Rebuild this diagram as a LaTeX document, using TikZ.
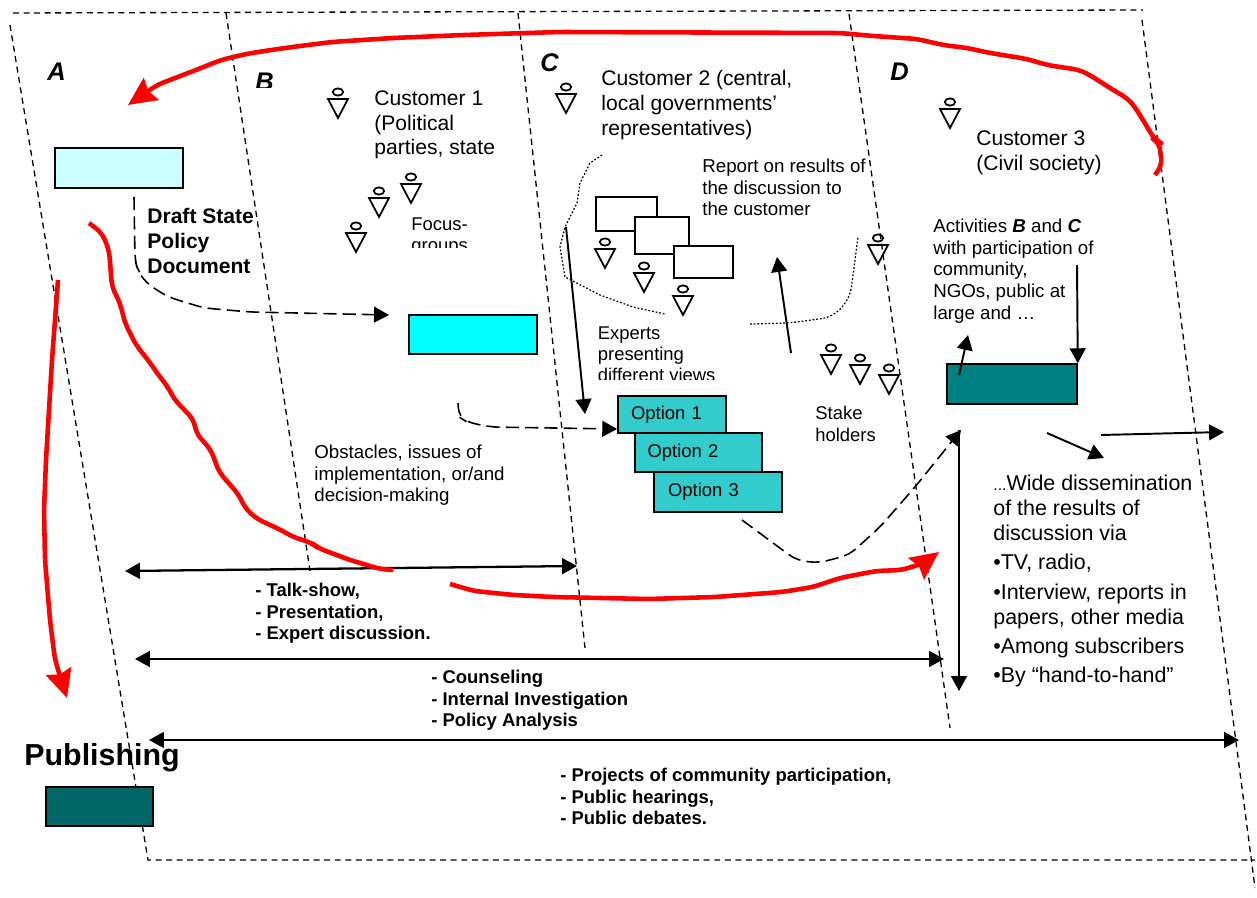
\documentclass[tikz,border=0pt]{standalone}
\usepackage{fontspec}
\setmainfont{Liberation Sans}
\usetikzlibrary{
    arrows.meta,
    positioning
}
\definecolor{PaleCyan}{RGB}{204,255,255}
\definecolor{FullCyan}{RGB}{0,255,255}
\definecolor{OptTeal}{RGB}{51,204,204}
\definecolor{MidTeal}{RGB}{0,128,128}
\definecolor{DarkTeal}{RGB}{0,102,102}
\definecolor{PenRed}{RGB}{255,0,0}
\tikzset{
  box/.style     = {draw, line width=0.9pt, inner sep=0pt},
  txt/.style     = {anchor=north west, inner sep=0pt, align=left,
                    font=\fontsize{12}{14.2}\selectfont},
  stxt/.style    = {anchor=north west, inner sep=0pt, align=left,
                    font=\fontsize{10.65}{12.25}\selectfont},
  ttxt/.style    = {anchor=north west, inner sep=0pt, align=left,
                    font=\fontsize{10.5}{12.2}\selectfont},
  btxt/.style    = {anchor=north west, inner sep=0pt, align=left,
                    font=\bfseries\fontsize{10.5}{12.3}\selectfont},
  zone/.style    = {anchor=north west, inner sep=0pt,
                    font=\bfseries\itshape\fontsize{14.5}{16}\selectfont},
  border/.style  = {line width=0.75pt, dash pattern=on 3.4pt off 2.6pt},
  trail/.style   = {line width=0.7pt, dash pattern=on 1pt off 1.1pt},
  arr/.style     = {-{Triangle[length=8.5pt,width=9pt]}, line width=1.1pt},
  darr/.style    = {{Triangle[length=8.5pt,width=9pt]}-{Triangle[length=8.5pt,width=9pt]}, line width=1.3pt},
  dasharr/.style = {-{Triangle[length=8.5pt,width=9pt]}, line width=0.9pt,
                    dash pattern=on 7.5pt off 3.5pt, rounded corners=5pt},
  redline/.style = {PenRed, line width=2.6pt, line join=round, rounded corners=4pt},
  redarr/.style  = {redline, -{Stealth[length=16pt,width=15pt,inset=2pt]}},
  person/.pic    = {
    \draw[line width=1pt] (0,0) ellipse [x radius=5.2, y radius=3.6];
    \draw[line width=1pt, line join=miter] (-10,7) -- (10,7) -- (0,26) -- cycle;
  }
}

\begin{document}
\begin{tikzpicture}[x=0.02cm,y=-0.02cm]
\useasboundingbox (0,0) rectangle (1257,898);
% zone borders
\draw[border] (13,13) -- (1143,10);
\draw[border] (10,25) -- (148,860) -- (1255,860);
\draw[border] (226,13) -- (310,571);
\draw[border] (518,13) -- (585,648);
\draw[border] (849,14) -- (950,728);
\draw[border] (1142,20) -- (1255,888);

% boxes
\node[box, fill=PaleCyan, minimum width=2.56cm, minimum height=0.80cm] (draftbox) at (119,168) {};
\node[box, fill=FullCyan, minimum width=2.56cm, minimum height=0.78cm] (focusbox) at (473,334.5) {};
\node[box, fill=MidTeal, minimum width=2.60cm, minimum height=0.80cm] (activebox) at (1012,384) {};
\node[box, fill=DarkTeal, minimum width=2.15cm, minimum height=0.78cm] (pubbox) at (99.5,806.5) {};
\node[box, fill=white, minimum width=1.22cm, minimum height=0.68cm] (exp1) at (626.5,214) {};
\node[box, fill=white, minimum width=1.08cm, minimum height=0.74cm] (exp2) at (662,235.5) {};
\node[box, fill=white, minimum width=1.18cm, minimum height=0.64cm] (exp3) at (703.5,262) {};
\node[box, fill=OptTeal, minimum width=2.16cm, minimum height=0.74cm, text width=1.64cm, align=left,
      font=\fontsize{10.5}{12}\selectfont] (opt1) at (672,414.5) {\raisebox{-0.8pt}{Option 1}};
\node[box, fill=OptTeal, minimum width=2.54cm, minimum height=0.78cm, text width=2.04cm, align=left,
      font=\fontsize{10.5}{12}\selectfont] (opt2) at (698.5,452.5) {\raisebox{-0.8pt}{Option 2}};
\node[box, fill=OptTeal, minimum width=2.56cm, minimum height=0.80cm, text width=2.00cm, align=left,
      font=\fontsize{10.5}{12}\selectfont] (opt3) at (718,492) {\raisebox{-0.8pt}{Option 3}};

% people
\pic at (338,92) {person};
\pic at (411,177) {person};
\pic at (379,191) {person};
\pic at (356,226) {person};
\pic at (566,87) {person};
\pic at (605,242) {person};
\pic at (644,266) {person};
\pic at (683,289) {person};
\pic at (878,238) {person};
\pic at (831,348) {person};
\pic at (860,358) {person};
\pic at (889,368) {person};
\pic at (950,102) {person};

% dotted trails
\draw[trail] (602,155) -- (590,163) -- (580,183) -- (577,203) -- (565,227) -- (560,247)
  -- (565,277) -- (600,295) -- (633,307) -- (665,314);
\draw[trail, rounded corners=6pt] (750,324) -- (790,323) -- (833,317) -- (850,298) -- (858,237);

% zone letters
\node[zone] (zoneA) at (47,63) {A};
\begin{scope}
\clip (250,60) rectangle (285,88);
\node[zone] (zoneB) at (255,73) {B};
\end{scope}
\node[zone] (zoneC) at (540,53) {C};
\node[zone] (zoneD) at (890,63) {D};

% texts
\node[txt] (cust1) at (374,90) {Customer 1\\(Political\\parties, state};
\node[txt] (cust2) at (601,70) {Customer 2 (central,\\local governments’\\representatives)};
\node[txt] (cust3) at (976,130) {Customer 3\\(Civil society)};
\node[stxt] (report) at (702,159) {Report on results of\\the discussion to\\the customer};
\node[stxt] (activ) at (933,219) {Activities \textbf{\textit{B}} and \textbf{\textit{C}}\\with participation of\\community,\\NGOs, public at\\large and …};
\node[txt, font=\bfseries\fontsize{12}{14.1}\selectfont] (draft) at (147,208) {Draft State\\Policy\\Document};
\begin{scope}
\clip (405,210) rectangle (480,248);
\node[ttxt] (focus) at (411,217) {Focus-\\groups};
\end{scope}
\begin{scope}
\clip (590,320) rectangle (725,379);
\node[ttxt] (experts) at (597.5,326) {Experts\\presenting\\different views};
\end{scope}
\node[ttxt] (stake) at (815,406) {Stake\\holders};
\node[ttxt, font=\fontsize{10.65}{12.2}\selectfont] (obst) at (314,445) {Obstacles, issues of\\implementation, or/and\\decision-making};
\node[btxt] (talk) at (255,583) {- Talk-show,\\- Presentation,\\- Expert discussion.};
\node[btxt] (couns) at (431,670) {- Counseling\\- Internal Investigation\\- Policy Analysis};
\node[btxt] (proj) at (560,768) {- Projects of community participation,\\- Public hearings,\\- Public debates.};
\node[txt, font=\fontsize{12.2}{14.2}\selectfont] (wide) at (993,475) {{\fontsize{9}{10}\selectfont ...}Wide dissemination\\of the results of\\discussion via\\[2.4pt]•TV, radio,\\[2.4pt]•Interview, reports in\\papers, other media\\[2.4pt]•Among subscribers\\[2.4pt]•By “hand-to-hand”};
\node[anchor=north west, inner sep=0pt, font=\bfseries\fontsize{17.3}{20}\selectfont] (publ) at (24,743) {Publishing};

% black arrows
\coordinate (talkL) at (125,571);
\coordinate (talkR) at (577,566);
\coordinate (counsL) at (135,659);
\coordinate (counsR) at (944,659);
\coordinate (publL) at (149,740);
\coordinate (publR) at (1239,740);
\coordinate (spanT) at (959,430);
\coordinate (spanB) at (959,691);
\draw[darr] (talkL) -- (talkR);
\draw[darr] (counsL) -- (counsR);
\draw[darr] (publL) -- (publR);
\draw[arr] (spanT) -- (spanB);
\coordinate (expS) at (566,227);
\coordinate (expE) at (585,414);
\draw[arr] (expS) -- (expE);
\coordinate (stakeS) at (791,353);
\coordinate (stakeE) at (777,257);
\draw[arr] (stakeS) -- (stakeE);
\coordinate (upS) at (959,375);
\coordinate (upE) at (968,335);
\draw[arr] (upS) -- (upE);
\coordinate (downS) at (1077,265);
\draw[arr] (downS) -- (activebox.north east);
\coordinate (diagS) at (1047,433);
\coordinate (diagE) at (1104,458);
\draw[arr] (diagS) -- (diagE);
\coordinate (outS) at (1101,435);
\coordinate (outE) at (1224,432);
\draw[arr] (outS) -- (outE);

% dashed arrows
\draw[dasharr] (134,197) -- (135,260) -- (137.5,270) -- (146,283) -- (168,297) -- (204,308)
  -- (250,312) -- (389,315);
\draw[dasharr] (458,403) -- (459,417) -- (467,422) -- (490,427) -- (553,428) -- (opt1.west |- 0,429);
\draw[dasharr] (742,520) -- (796,560) -- (818,563) -- (849,555) -- (880,527) -- (915,487) -- (961,430);

% red strokes
\draw[redarr] (1155,175) -- (1162,165) -- (1159,142) -- (1155,140) -- (1135,107) -- (1127,98)
  -- (1113,90) -- (1093,77) -- (1080,70) -- (1047,65) -- (1027,59) -- (990,53) -- (967,48)
  -- (943,45) -- (917,39) -- (873,36) -- (840,33) -- (560,32) -- (464,35) -- (393,38)
  -- (332,42) -- (300,46) -- (271,50) -- (246,54) -- (221,60) -- (196,70) -- (157,85) -- (128,105);
\draw[redline] (89,223) -- (102,233) -- (109,250) -- (112,287) -- (120,303) -- (125,323)
  -- (136,345) -- (148,360) -- (160,377) -- (168,387) -- (174,399) -- (194,420) -- (196,433)
  -- (211,450) -- (219,472) -- (239,495) -- (245,508) -- (257,519) -- (281,530) -- (293,537)
  -- (312,543) -- (318,548) -- (350,560) -- (380,569) -- (393,570);
\draw[redarr] (450,584) -- (474,591) -- (514,595) -- (553,597) -- (649,599) -- (715,597)
  -- (782,592) -- (813,587) -- (840,578) -- (876,571) -- (902,570) -- (924,563) -- (939,552);
\draw[redarr] (58,280) -- (52,360) -- (46,460) -- (44,510) -- (45,560) -- (50,620) -- (55,660)
  -- (67,698);
\end{tikzpicture}
\end{document}
